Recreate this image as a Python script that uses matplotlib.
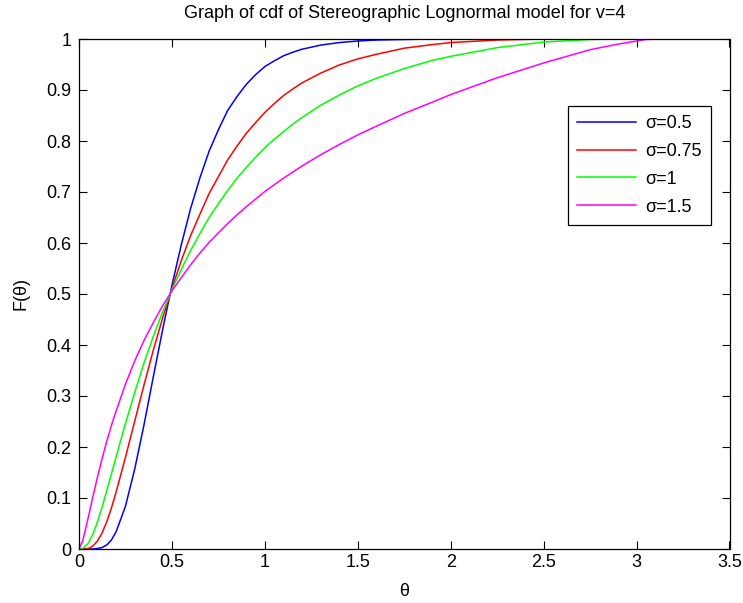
import matplotlib
matplotlib.use('Agg')
import matplotlib.pyplot as plt

# values
theta = [0, 0.02, 0.05, 0.075, 0.1, 0.125, 0.15, 0.175, 0.2, 0.25, 0.3, 0.35, 0.4, 0.45,
         0.5, 0.55, 0.6, 0.65, 0.7, 0.75, 0.8, 0.85, 0.9, 0.95, 1.0, 1.05, 1.1, 1.15,
         1.2, 1.3, 1.4, 1.5, 1.6, 1.75, 1.9, 2.0, 2.25, 2.5, 2.75, 2.9, 3.0, 3.05, 3.14]
cdf_s05 = [0, 0, 0, 0, 0.001, 0.003, 0.008, 0.018, 0.034, 0.084, 0.157, 0.244, 0.338, 0.430,
           0.517, 0.596, 0.667, 0.727, 0.780, 0.822, 0.860, 0.887, 0.911, 0.930, 0.946, 0.957, 0.967, 0.974,
           0.980, 0.988, 0.993, 0.996, 0.998, 0.999, 1, 1, 1, 1, 1, 1, 1, 1, 1]
cdf_s075 = [0, 0, 0.001, 0.006, 0.016, 0.032, 0.054, 0.081, 0.112, 0.180, 0.251, 0.322, 0.390, 0.453,
            0.511, 0.565, 0.614, 0.656, 0.697, 0.730, 0.763, 0.790, 0.815, 0.836, 0.856, 0.873, 0.889, 0.902,
            0.914, 0.933, 0.949, 0.961, 0.970, 0.982, 0.989, 0.993, 0.998, 1, 1, 1, 1, 1, 1]
cdf_s1 = [0, 0.001, 0.011, 0.029, 0.054, 0.083, 0.115, 0.148, 0.181, 0.246, 0.307, 0.365, 0.417, 0.465,
          0.508, 0.548, 0.585, 0.618, 0.650, 0.677, 0.703, 0.727, 0.748, 0.768, 0.787, 0.803, 0.818, 0.833,
          0.846, 0.870, 0.890, 0.908, 0.923, 0.942, 0.958, 0.966, 0.983, 0.994, 0.999, 1, 1, 1, 1]
cdf_s15 = [0, 0.016, 0.062, 0.103, 0.142, 0.178, 0.212, 0.243, 0.271, 0.323, 0.369, 0.409, 0.444, 0.477,
           0.506, 0.532, 0.557, 0.580, 0.601, 0.620, 0.638, 0.655, 0.671, 0.686, 0.701, 0.714, 0.727, 0.739,
           0.751, 0.773, 0.793, 0.812, 0.829, 0.854, 0.876, 0.891, 0.924, 0.953, 0.979, 0.990, 0.996, 0.999, 1]
labels = ['σ=0.5', 'σ=0.75', 'σ=1', 'σ=1.5']
colors = ['#0000ff', '#ff0000', '#00ff00', '#ff00ff']

plt.rcParams['font.family'] = ['Liberation Sans', 'DejaVu Sans']
plt.rcParams['font.size'] = 13

W, H = 743, 603
fig = plt.figure(figsize=(W / 100, H / 100), dpi=100)
ax = fig.add_axes([79 / W, 1 - 549 / H, (729.5 - 79) / W, (549 - 39) / H])

for y, lab, c in zip([cdf_s05, cdf_s075, cdf_s1, cdf_s15], labels, colors):
    ax.plot(theta, y, color=c, lw=1.1, label=lab)

ax.set_xlim(0, 3.5)
ax.set_ylim(0, 1)
ax.set_xticks([0, 0.5, 1, 1.5, 2, 2.5, 3, 3.5])
ax.set_xticklabels(['0', '0.5', '1', '1.5', '2', '2.5', '3', '3.5'])
ax.set_yticks([i / 10 for i in range(11)])
ax.set_yticklabels(['0', '0.1', '0.2', '0.3', '0.4', '0.5', '0.6', '0.7', '0.8', '0.9', '1'])
ax.tick_params(direction='in', top=True, right=True, length=5.5, width=0.8, labelsize=13)
ax.tick_params(axis='y', pad=5.5)
for s in ax.spines.values():
    s.set_linewidth(0.9)

ax.set_title('Graph of cdf of Stereographic Lognormal model for v=4', fontsize=13, pad=15)
ax.set_xlabel('θ', fontsize=13, labelpad=9)
ax.set_ylabel('F(θ)', fontsize=13, labelpad=12)

leg = ax.legend(loc='upper right', bbox_to_anchor=(711 / W, 1 - 106 / H),
                bbox_transform=fig.transFigure, borderaxespad=0, fancybox=False,
                edgecolor='black', framealpha=1, fontsize=13, handlelength=3.3,
                handletextpad=0.5, labelspacing=0.6, borderpad=0.5)
leg.get_frame().set_linewidth(0.9)

fig.savefig('out.png', dpi=100)
